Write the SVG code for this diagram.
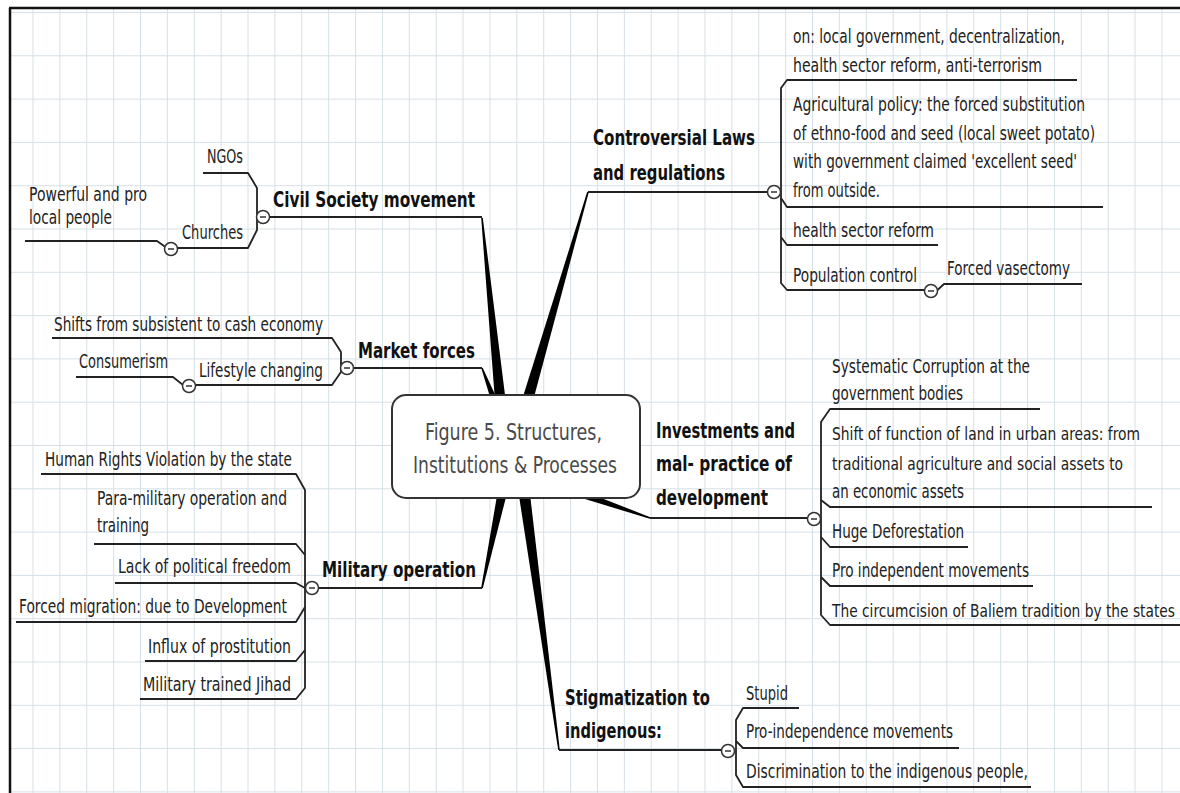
<svg xmlns="http://www.w3.org/2000/svg" width="1180" height="793" viewBox="0 0 1180 793">
<defs>
<pattern id="grid" x="5.6" y="12" width="26.88" height="43.3" patternUnits="userSpaceOnUse">
<path d="M0.5,0 V43.3 M0,0.5 H26.88" fill="none" stroke="#d6e0e6" stroke-width="1"/>
</pattern>
<style>
.t{font-family:"DejaVu Sans Condensed","DejaVu Sans",sans-serif;font-size:19px;fill:#222}
.s{font-family:"DejaVu Sans Condensed","DejaVu Sans",sans-serif;font-size:18px;fill:#222}
.m{font-family:"DejaVu Sans Condensed","DejaVu Sans",sans-serif;font-size:21px;font-weight:bold;fill:#111}
.c{font-family:"DejaVu Sans Condensed","DejaVu Sans",sans-serif;font-size:23px;fill:#4a4a4a}
.ln{fill:none;stroke:#222;stroke-width:1.8;stroke-linejoin:round}
.wd{fill:#000}
.btn circle{fill:#fff;stroke:#333;stroke-width:1.5}
.btn line{stroke:#333;stroke-width:1.5}
</style>
</defs>
<rect x="0" y="0" width="1180" height="793" fill="#fff"/>
<rect x="10" y="8" width="1170" height="785" fill="url(#grid)"/>
<path d="M9,8 H1180 M10,8 V793" fill="none" stroke="#111" stroke-width="2.5"/>

<g id="connectors">
<polygon class="wd" points="481.2,218.1 482.8,217.9 511.5,446.4 498.5,447.6"/>
<polygon class="wd" points="587.2,191.8 588.8,192.2 520.2,448.8 507.8,445.2"/>
<polygon class="wd" points="481.3,368.3 482.7,367.7 518.1,444.7 505.9,449.3"/>
<polygon class="wd" points="481.2,587.8 482.8,588.2 518.4,448.4 505.6,445.6"/>
<polygon class="wd" points="558.2,750.1 559.8,749.9 524.4,446.1 511.6,447.9"/>
<polygon class="wd" points="649.7,518.8 650.3,517.2 514.1,463.9 509.9,476.1"/>
<path class="ln" d="M270,217 H482"/>
<path class="ln" d="M203,173 H248 L257,188 V230 L248,248 H177.5"/>
<path class="ln" d="M25,241 H157 L165.5,247"/>
<path class="ln" d="M353.5,368 H482"/>
<path class="ln" d="M52,338 H332 L341,352 V372 L332,385 H195.5"/>
<path class="ln" d="M76,377 H173 L183,385"/>
<path class="ln" d="M318.5,588 H482"/>
<path class="ln" d="M41,474 H296 L305,490 V688 L296,699 H140"/>
<path class="ln" d="M94,544 H296 L305,555"/>
<path class="ln" d="M115,583 H296 L305,588"/>
<path class="ln" d="M16,622 H296 L305,607"/>
<path class="ln" d="M145,661 H296 L305,650"/>
<path class="ln" d="M588,192 H767.5"/>
<path class="ln" d="M1077,80 H787 L781,88 V283 L787,290 H924.5"/>
<path class="ln" d="M781,198 L787,207 H1103"/>
<path class="ln" d="M781,237 L787,245 H938"/>
<path class="ln" d="M937.5,290 L944,284 H1082"/>
<path class="ln" d="M650,518 H807.5"/>
<path class="ln" d="M1040,409 H830 L821,422 V615 L830,625 H1180"/>
<path class="ln" d="M821,500 L830,507 H1152"/>
<path class="ln" d="M821,537 L830,547 H968"/>
<path class="ln" d="M821,577 L830,586 H1033"/>
<path class="ln" d="M559,750 H721.5"/>
<path class="ln" d="M799,708 H743 L736,720 V775 L743,787 H1031"/>
<path class="ln" d="M736,741 L743,748 H959"/>
</g>

<g id="buttons" class="btn">
<g><circle cx="263" cy="217" r="6.5"/><line x1="260" y1="217" x2="266" y2="217"/></g>
<g><circle cx="171" cy="249" r="6.5"/><line x1="168" y1="249" x2="174" y2="249"/></g>
<g><circle cx="347" cy="368" r="6.5"/><line x1="344" y1="368" x2="350" y2="368"/></g>
<g><circle cx="189" cy="386" r="6.5"/><line x1="186" y1="386" x2="192" y2="386"/></g>
<g><circle cx="312" cy="588" r="6.5"/><line x1="309" y1="588" x2="315" y2="588"/></g>
<g><circle cx="774" cy="192" r="6.5"/><line x1="771" y1="192" x2="777" y2="192"/></g>
<g><circle cx="931" cy="291" r="6.5"/><line x1="928" y1="291" x2="934" y2="291"/></g>
<g><circle cx="814" cy="519" r="6.5"/><line x1="811" y1="519" x2="817" y2="519"/></g>
<g><circle cx="728" cy="751" r="6.5"/><line x1="725" y1="751" x2="731" y2="751"/></g>
</g>

<g id="center">
<rect x="392" y="395" width="248" height="103" rx="14" fill="#fff" stroke="#333" stroke-width="2"/>
<text class="c" x="425" y="440" textLength="177" lengthAdjust="spacingAndGlyphs">Figure 5. Structures,</text>
<text class="c" x="413" y="473" textLength="204" lengthAdjust="spacingAndGlyphs">Institutions &amp; Processes</text>
</g>

<g id="civil-society">
<text class="m" x="273" y="207" textLength="202" lengthAdjust="spacingAndGlyphs">Civil Society movement</text>
<text class="t" x="207" y="163" textLength="36" lengthAdjust="spacingAndGlyphs">NGOs</text>
<text class="t" x="182" y="239" textLength="61" lengthAdjust="spacingAndGlyphs">Churches</text>
<text class="t" x="29" y="201" textLength="118" lengthAdjust="spacingAndGlyphs">Powerful and pro</text>
<text class="t" x="29" y="224" textLength="83" lengthAdjust="spacingAndGlyphs">local people</text>
</g>

<g id="market-forces">
<text class="m" x="358" y="358" textLength="117" lengthAdjust="spacingAndGlyphs">Market forces</text>
<text class="t" x="54" y="331" textLength="269" lengthAdjust="spacingAndGlyphs">Shifts from subsistent to cash economy</text>
<text class="t" x="79" y="368" textLength="89" lengthAdjust="spacingAndGlyphs">Consumerism</text>
<text class="t" x="199" y="377" textLength="124" lengthAdjust="spacingAndGlyphs">Lifestyle changing</text>
</g>

<g id="military-operation">
<text class="m" x="322" y="577" textLength="154" lengthAdjust="spacingAndGlyphs">Military operation</text>
<text class="t" x="45" y="466" textLength="247" lengthAdjust="spacingAndGlyphs">Human Rights Violation by the state</text>
<text class="t" x="97" y="505" textLength="190" lengthAdjust="spacingAndGlyphs">Para-military operation and</text>
<text class="t" x="97" y="532" textLength="52" lengthAdjust="spacingAndGlyphs">training</text>
<text class="t" x="118" y="573" textLength="173" lengthAdjust="spacingAndGlyphs">Lack of political freedom</text>
<text class="t" x="19" y="613" textLength="268" lengthAdjust="spacingAndGlyphs">Forced migration: due to Development</text>
<text class="t" x="148" y="653" textLength="143" lengthAdjust="spacingAndGlyphs">Influx of prostitution</text>
<text class="t" x="143" y="691" textLength="148" lengthAdjust="spacingAndGlyphs">Military trained Jihad</text>
</g>

<g id="controversial-laws">
<text class="m" x="593" y="145" textLength="162" lengthAdjust="spacingAndGlyphs">Controversial Laws</text>
<text class="m" x="593" y="180" textLength="132" lengthAdjust="spacingAndGlyphs">and regulations</text>
<text class="t" x="793" y="43" textLength="272" lengthAdjust="spacingAndGlyphs">on: local government, decentralization,</text>
<text class="t" x="793" y="72" textLength="249" lengthAdjust="spacingAndGlyphs">health sector reform, anti-terrorism</text>
<text class="t" x="793" y="111" textLength="292" lengthAdjust="spacingAndGlyphs">Agricultural policy: the forced substitution</text>
<text class="t" x="793" y="140" textLength="302" lengthAdjust="spacingAndGlyphs">of ethno-food and seed (local sweet potato)</text>
<text class="t" x="793" y="168" textLength="284" lengthAdjust="spacingAndGlyphs">with government claimed 'excellent seed'</text>
<text class="t" x="793" y="197" textLength="87" lengthAdjust="spacingAndGlyphs">from outside.</text>
<text class="t" x="793" y="237" textLength="141" lengthAdjust="spacingAndGlyphs">health sector reform</text>
<text class="t" x="793" y="282" textLength="124" lengthAdjust="spacingAndGlyphs">Population control</text>
<text class="t" x="947" y="275" textLength="123" lengthAdjust="spacingAndGlyphs">Forced vasectomy</text>
</g>

<g id="investments">
<text class="m" x="656" y="438" textLength="139" lengthAdjust="spacingAndGlyphs">Investments and</text>
<text class="m" x="656" y="471" textLength="136" lengthAdjust="spacingAndGlyphs">mal- practice of</text>
<text class="m" x="656" y="505" textLength="112" lengthAdjust="spacingAndGlyphs">development</text>
<text class="t" x="832" y="373" textLength="198" lengthAdjust="spacingAndGlyphs">Systematic Corruption at the</text>
<text class="t" x="832" y="400" textLength="131" lengthAdjust="spacingAndGlyphs">government bodies</text>
<text class="s" x="832" y="440" textLength="308" lengthAdjust="spacingAndGlyphs">Shift of function of land in urban areas: from</text>
<text class="s" x="832" y="470" textLength="291" lengthAdjust="spacingAndGlyphs">traditional agriculture and social assets to</text>
<text class="t" x="832" y="498" textLength="132" lengthAdjust="spacingAndGlyphs">an economic assets</text>
<text class="t" x="832" y="538" textLength="132" lengthAdjust="spacingAndGlyphs">Huge Deforestation</text>
<text class="t" x="832" y="577" textLength="197" lengthAdjust="spacingAndGlyphs">Pro independent movements</text>
<text class="s" x="832" y="617" textLength="343" lengthAdjust="spacingAndGlyphs">The circumcision of Baliem tradition by the states</text>
</g>

<g id="stigmatization">
<text class="m" x="565" y="705" textLength="145" lengthAdjust="spacingAndGlyphs">Stigmatization to</text>
<text class="m" x="565" y="738" textLength="97" lengthAdjust="spacingAndGlyphs">indigenous:</text>
<text class="t" x="746" y="700" textLength="42" lengthAdjust="spacingAndGlyphs">Stupid</text>
<text class="t" x="746" y="738" textLength="207" lengthAdjust="spacingAndGlyphs">Pro-independence movements</text>
<text class="t" x="746" y="778" textLength="282" lengthAdjust="spacingAndGlyphs">Discrimination to the indigenous people,</text>
</g>
</svg>
